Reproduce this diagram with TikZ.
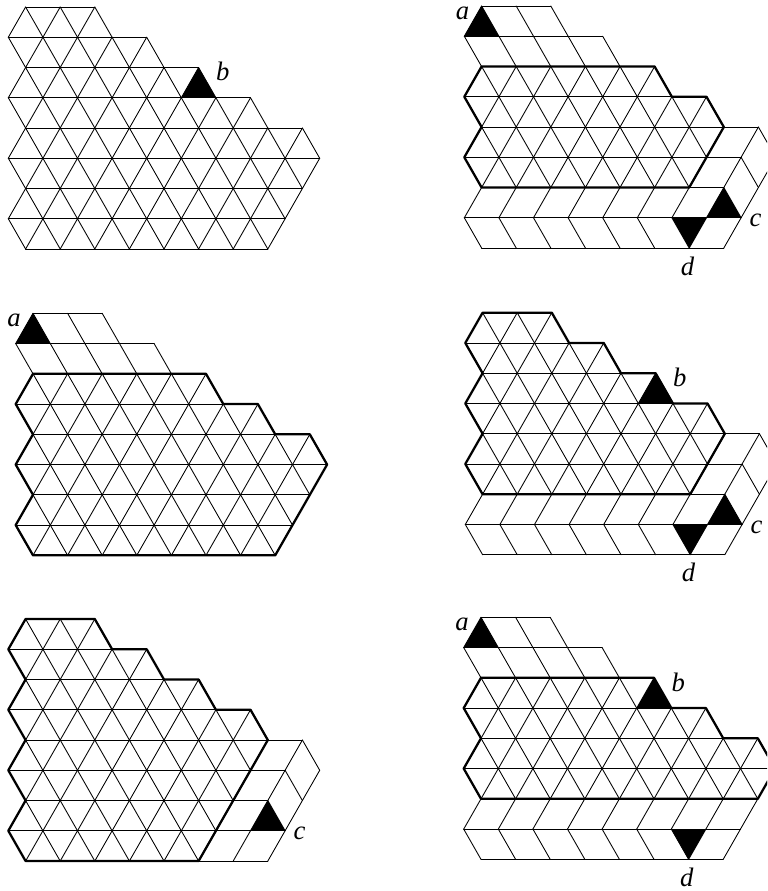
\documentclass[tikz,border=0pt]{standalone}
\usepackage{fontspec}
\setmainfont{Liberation Serif}
\usepackage{tikz}

% edges of the triangular lattice: u counts half sides, row counts lines from the top
\newcommand{\bsl}[2]{\foreach \u in {#2}{\draw[thinline] (\u,#1) -- (\u+1,#1+1);}}
\newcommand{\fsl}[2]{\foreach \u in {#2}{\draw[thinline] (\u,#1) -- (\u-1,#1+1);}}
\newcommand{\hor}[3]{\draw[thinline] (#2,#1) -- (#3,#1);}

% edges that every panel has
\newcommand{\core}{
    \hor{0}{1}{5} \hor{1}{0}{8} \hor{2}{1}{11} \hor{3}{0}{14} \hor{4}{1}{17}
    \hor{5}{0}{16} \hor{6}{1}{15} \hor{7}{0}{16} \hor{8}{1}{15}
    \bsl{0}{1,3,5} \fsl{0}{1} \bsl{1}{0,2,...,8}
    \bsl{2}{1,3,...,11} \fsl{2}{1,3,...,11}
    \bsl{3}{0,2,...,14} \fsl{3}{2,4,...,14}
    \bsl{4}{1,3,...,13} \bsl{4}{17} \fsl{4}{1,3,...,17}
    \bsl{5}{0,2,...,12} \bsl{5}{16} \fsl{5}{2,4,...,18}
    \fsl{6}{1,3,...,17} \bsl{7}{0,2,...,10} \fsl{7}{14,16}
}
\newcommand{\fulltop}{\fsl{0}{3,5} \fsl{1}{2,4,6,8}}
\newcommand{\fullwedge}{\bsl{4}{15} \bsl{5}{14} \hor{5}{16}{18} \hor{6}{15}{17}}
\newcommand{\fullbase}{\bsl{6}{1,3,...,11} \fsl{7}{2,4,...,12}}
\newcommand{\fullcorner}{\bsl{6}{13} \bsl{7}{14}}
\newcommand{\cstub}{\bsl{6}{15}}
\newcommand{\dstub}{\bsl{7}{12}}

% black triangles with their letters, #1 is the panel
\newcommand{\marka}[1]{\fill (1,0) -- (0,1) -- (2,1) -- cycle; \node[letter] (a#1) at (-0.1,0.24) {a};}
\newcommand{\markb}[1]{\fill (11,2) -- (10,3) -- (12,3) -- cycle; \node[letter] (b#1) at (12.4,2.14) {b};}
\newcommand{\markc}[1]{\fill (15,6) -- (14,7) -- (16,7) -- cycle; \node[letter] (c#1) at (16.84,7.08) {c};}
\newcommand{\markd}[1]{\fill (12,7) -- (14,7) -- (13,8) -- cycle; \node[letter] (d#1) at (12.9,8.6) {d};}

\tikzset{
    thinline/.style={line width=0.65pt, line cap=round},
    outline/.style={line width=1.7pt, line join=round},
    letter/.style={font=\fontsize{20}{24}\selectfont\itshape, inner sep=0pt},
    lattice/.style 2 args={shift={(#1*0.75pt,-#2*0.75pt)}, x=12.975pt, y=-22.69pt}
}

\begin{document}
\begin{tikzpicture}
    \clip (0,0) rectangle (575.25pt,-668.25pt);

    % 1. Top left: whole region, b only
    \begin{scope}[lattice={8.3}{7}]
        \core \fulltop \fullwedge \fullbase \fullcorner \cstub \dstub
        \markb{1}
    \end{scope}

    % 2. Top right: a, c, d
    \begin{scope}[lattice={464.3}{6}]
        \core \cstub \dstub
        \marka{2} \markc{2} \markd{2}
        \draw[outline] (1,2) -- (11,2) -- (12,3) -- (14,3) -- (15,4) -- (13,6) -- (1,6)
            -- (0,5) -- (1,4) -- (0,3) -- cycle;
    \end{scope}

    % 3. Middle left: a
    \begin{scope}[lattice={15.7}{313.3}]
        \core \fullwedge \fullbase \fullcorner \cstub \dstub
        \marka{3}
        \draw[outline] (1,2) -- (11,2) -- (12,3) -- (14,3) -- (15,4) -- (17,4) -- (18,5) -- (15,8) -- (1,8)
            -- (0,7) -- (1,6) -- (0,5) -- (1,4) -- (0,3) -- cycle;
    \end{scope}

    % 4. Middle right: b, c, d
    \begin{scope}[lattice={465.3}{312.7}]
        \core \fulltop \cstub \dstub
        \markb{4} \markc{4} \markd{4}
        \draw[outline] (1,0) -- (5,0) -- (6,1) -- (8,1) -- (9,2) -- (11,2) -- (12,3) -- (14,3) -- (15,4) -- (13,6) -- (1,6)
            -- (0,5) -- (1,4) -- (0,3) -- (1,2) -- (0,1) -- cycle;
    \end{scope}

    % 5. Bottom left: c
    \begin{scope}[lattice={8.3}{619}]
        \core \fulltop \fullbase \cstub
        \markc{5}
        \draw[outline] (1,0) -- (5,0) -- (6,1) -- (8,1) -- (9,2) -- (11,2) -- (12,3) -- (14,3) -- (15,4) -- (11,8) -- (1,8)
            -- (0,7) -- (1,6) -- (0,5) -- (1,4) -- (0,3) -- (1,2) -- (0,1) -- cycle;
    \end{scope}

    % 6. Bottom right: a, b, d
    \begin{scope}[lattice={463.7}{617.3}]
        \core \fullwedge \dstub
        \marka{6} \markb{6} \markd{6}
        \draw[outline] (1,2) -- (11,2) -- (12,3) -- (14,3) -- (15,4) -- (17,4) -- (18,5) -- (17,6) -- (1,6)
            -- (0,5) -- (1,4) -- (0,3) -- cycle;
    \end{scope}
\end{tikzpicture}
\end{document}
